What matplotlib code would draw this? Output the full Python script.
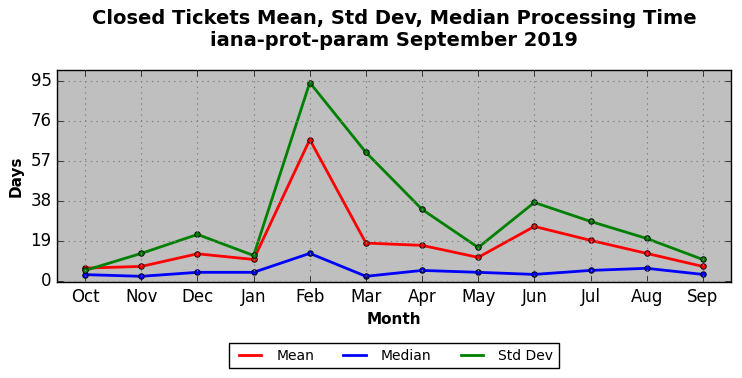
import numpy as np
import matplotlib
matplotlib.use("Agg")
import matplotlib.pyplot as plt
from matplotlib.lines import Line2D

plt.style.use("classic")

months = ["Oct", "Nov", "Dec", "Jan", "Feb", "Mar", "Apr", "May", "Jun", "Jul", "Aug", "Sep"]
mean = [6.0, 6.8, 12.8, 10.1, 67.1, 17.9, 16.8, 11.1, 25.8, 19.2, 13.0, 6.8]
median = [2.9, 2.1, 4.0, 4.0, 13.0, 2.1, 4.9, 4.0, 3.0, 4.9, 5.9, 3.0]
std_dev = [4.9, 13.0, 22.0, 12.0, 94.2, 61.0, 33.9, 15.8, 37.2, 28.2, 20.1, 10.1]
yticks = [0, 19, 38, 57, 76, 95]

fig = plt.figure(figsize=(7.42, 3.78), dpi=100, facecolor="white")
ax = fig.add_axes([0.077, 0.254, 0.908, 0.561])
ax.set_facecolor("#bfbfbf")

x = np.arange(len(months))
ax.plot(x, mean, color="red", lw=2, marker="o", ms=4, mec="black", mew=0.6)
ax.plot(x, median, color="blue", lw=2, marker="o", ms=4, mec="black", mew=0.6)
ax.plot(x, std_dev, color="green", lw=2, marker="o", ms=4, mec="black", mew=0.6)

ax.set_xlim(-0.5, 11.5)
ax.set_ylim(-0.6, 100.2)
ax.set_xticks(x)
ax.set_xticklabels(months)
ax.set_yticks(yticks)
ax.tick_params(labelsize=12)
ax.grid(True, color="gray", linestyle=":", linewidth=0.8)

ax.set_xlabel("Month", fontsize=11, fontweight="bold")
ax.set_ylabel("Days", fontsize=11, fontweight="bold")
ax.set_title("Closed Tickets Mean, Std Dev, Median Processing Time\niana-prot-param September 2019",
             fontsize=14, fontweight="bold", pad=17)

handles = [Line2D([], [], color=c, lw=2) for c in ("red", "blue", "green")]
ax.legend(handles, ["Mean", "Median", "Std Dev"], loc="upper center",
          bbox_to_anchor=(0.5, -0.255), ncol=3, fontsize=10,
          fancybox=False, frameon=True, handlelength=2.2, columnspacing=1.8)

fig.savefig("out.png", dpi=100, facecolor="white")
